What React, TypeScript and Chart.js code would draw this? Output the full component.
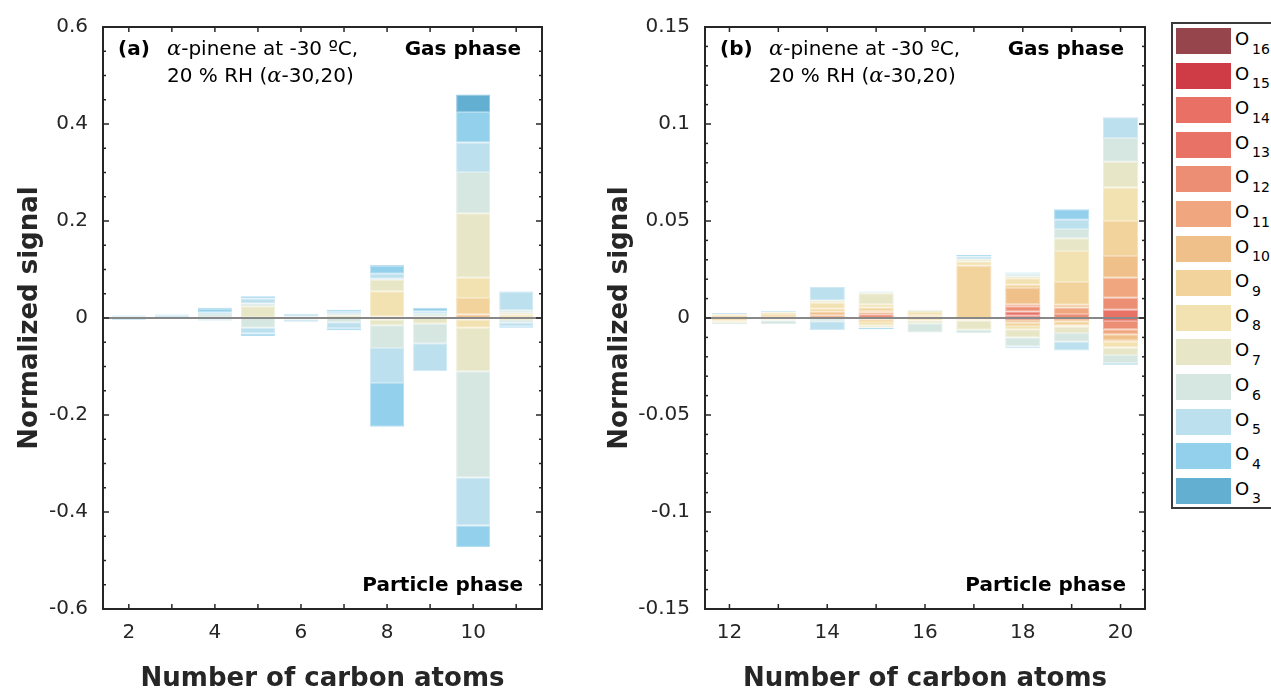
import React, { useEffect, useRef } from "react";
import { Chart, registerables } from "chart.js";

Chart.register(...registerables);

const FONT = "'DejaVu Sans', Verdana, sans-serif";
const INK = "#262626";

// Oxygen numbers (rows of the data tables below) and their colours
const oxygenNumbers = [3, 4, 5, 6, 7, 8, 9, 10, 11, 12, 13, 14, 15, 16];
const oxygenColors = [
  "#63afd1", "#93d0eb", "#bce0ee", "#d6e7e2", "#e7e7c7", "#f2e2b1", "#f2d39b",
  "#f0c08b", "#f0a77f", "#ec8e74", "#e97266", "#e87065", "#d03c45", "#95454b",
];

// Panel (a): alpha-pinene, carbon numbers 2..11
const carbonA = [2, 3, 4, 5, 6, 7, 8, 9, 10, 11];
const xTicksA = [2, 4, 6, 8, 10];
const yTicksA = [-0.6, -0.4, -0.2, 0, 0.2, 0.4, 0.6];
// gas phase (positive), one row per oxygen number O3..O16
const gasA: number[][] = [
  [0, 0, 0.002, 0, 0, 0, 0.002, 0, 0.036, 0], // O3
  [0.002, 0.002, 0.007, 0.005, 0, 0.004, 0.016, 0.007, 0.063, 0.001], // O4
  [0.003, 0.003, 0.004, 0.01, 0.006, 0.004, 0.01, 0.005, 0.061, 0.038], // O5
  [0, 0.002, 0.006, 0.006, 0.003, 0.004, 0.002, 0.006, 0.085, 0.005], // O6
  [0, 0, 0.002, 0.022, 0, 0.003, 0.024, 0.003, 0.133, 0.004], // O7
  [0, 0, 0, 0.002, 0, 0.002, 0.052, 0, 0.042, 0.005], // O8
  [0, 0, 0, 0, 0, 0, 0.003, 0, 0.034, 0.002], // O9
  [0, 0, 0, 0, 0, 0, 0, 0, 0.007, 0], // O10
  [0, 0, 0, 0, 0, 0, 0, 0, 0, 0], // O11
  [0, 0, 0, 0, 0, 0, 0, 0, 0, 0], // O12
  [0, 0, 0, 0, 0, 0, 0, 0, 0, 0], // O13
  [0, 0, 0, 0, 0, 0, 0, 0, 0, 0], // O14
  [0, 0, 0, 0, 0, 0, 0, 0, 0, 0], // O15
  [0, 0, 0, 0, 0, 0, 0, 0, 0, 0], // O16
];
// particle phase (negative)
const particleA: number[][] = [
  [0, 0, 0, 0, 0, 0, 0, 0, 0, 0], // O3
  [-0.0015, 0, -0.002, -0.005, 0, -0.004, -0.09, 0, -0.044, -0.003], // O4
  [-0.002, -0.002, -0.002, -0.012, -0.0045, -0.012, -0.072, -0.058, -0.099, -0.007], // O5
  [0, 0, -0.001, -0.02, -0.003, -0.009, -0.047, -0.04, -0.219, -0.006], // O6
  [0, 0, 0, 0, 0, 0, -0.012, -0.012, -0.09, -0.004], // O7
  [0, 0, 0, 0, 0, 0, -0.003, 0, -0.017, 0], // O8
  [0, 0, 0, 0, 0, 0, 0, 0, -0.003, 0], // O9
  [0, 0, 0, 0, 0, 0, 0, 0, 0, 0], // O10
  [0, 0, 0, 0, 0, 0, 0, 0, 0, 0], // O11
  [0, 0, 0, 0, 0, 0, 0, 0, 0, 0], // O12
  [0, 0, 0, 0, 0, 0, 0, 0, 0, 0], // O13
  [0, 0, 0, 0, 0, 0, 0, 0, 0, 0], // O14
  [0, 0, 0, 0, 0, 0, 0, 0, 0, 0], // O15
  [0, 0, 0, 0, 0, 0, 0, 0, 0, 0], // O16
];

// Panel (b): carbon numbers 12..20
const carbonB = [12, 13, 14, 15, 16, 17, 18, 19, 20];
const xTicksB = [12, 14, 16, 18, 20];
const yTicksB = [-0.15, -0.1, -0.05, 0, 0.05, 0.1, 0.15];
const gasB: number[][] = [
  [0, 0, 0, 0, 0, 0, 0, 0, 0], // O3
  [0, 0.0005, 0, 0, 0, 0.0008, 0.0005, 0.0054, 0], // O4
  [0.0008, 0, 0.0067, 0.0003, 0, 0.0014, 0.0007, 0.0048, 0.0107], // O5
  [0, 0, 0.0003, 0.0006, 0.0004, 0, 0.0009, 0.0048, 0.0122], // O6
  [0, 0.0004, 0.0012, 0.0056, 0.0006, 0.0012, 0.0009, 0.0066, 0.0133], // O7
  [0.0008, 0.0013, 0.003, 0.0017, 0.0017, 0.0022, 0.0034, 0.016, 0.0173], // O8
  [0.0006, 0.001, 0.0016, 0.0019, 0.0008, 0.0269, 0.0017, 0.0117, 0.018], // O9
  [0.0005, 0.0005, 0.0018, 0.0008, 0.0006, 0, 0.0083, 0.0014, 0.0112], // O10
  [0, 0, 0.0014, 0.0008, 0, 0, 0.001, 0.0034, 0.0104], // O11
  [0, 0, 0, 0.0019, 0, 0, 0.0027, 0.002, 0.0061], // O12
  [0, 0, 0, 0, 0, 0, 0.0022, 0, 0.0043], // O13
  [0, 0, 0, 0, 0, 0, 0.0012, 0, 0], // O14
  [0, 0, 0, 0, 0, 0, 0, 0, 0], // O15
  [0, 0, 0, 0, 0, 0, 0, 0, 0], // O16
];
const particleB: number[][] = [
  [0, 0, 0, 0, 0, 0, 0, 0, 0], // O3
  [0, 0, 0, -0.0006, 0, 0, 0, 0, 0], // O4
  [0, 0, -0.0046, 0, 0, 0, -0.0009, -0.0045, -0.001], // O5
  [-0.0006, -0.0018, -0.0014, -0.0003, -0.0048, -0.0016, -0.0046, -0.0046, -0.0041], // O6
  [-0.0006, -0.0005, 0, -0.0012, -0.0014, -0.0048, -0.0043, -0.0033, -0.0039], // O7
  [-0.0008, -0.0005, -0.0003, -0.0017, -0.0008, -0.0005, -0.0017, -0.0007, -0.0029], // O8
  [-0.0008, -0.0003, 0, -0.0013, -0.0005, -0.0008, -0.0017, -0.002, -0.001], // O9
  [-0.0003, 0, 0, 0, 0, 0, -0.0014, -0.0007, -0.0029], // O10
  [0, 0, 0, -0.0007, 0, 0, 0, -0.001, -0.0026], // O11
  [0, 0, 0, 0, 0, 0, -0.001, 0, -0.0043], // O12
  [0, 0, 0, 0, 0, 0, 0, 0, -0.0015], // O13
  [0, 0, 0, 0, 0, 0, 0, 0, 0], // O14
  [0, 0, 0, 0, 0, 0, 0, 0, 0], // O15
  [0, 0, 0, 0, 0, 0, 0, 0, 0], // O16
];

type PanelCfg = {
  tag: string;
  carbons: number[];
  gas: number[][];
  particle: number[][];
  xMin: number;
  xMax: number;
  xTicks: number[];
  yMin: number;
  yMax: number;
  yTicks: number[];
  yMinorStep: number;
  barPct: number;
  yAxisWidth: number;
  padRight: number;
};

const panelA: PanelCfg = {
  tag: "(a)", carbons: carbonA, gas: gasA, particle: particleA,
  xMin: 1.4, xMax: 11.6, xTicks: xTicksA,
  yMin: -0.6, yMax: 0.6, yTicks: yTicksA, yMinorStep: 0.05,
  barPct: 0.79, yAxisWidth: 103, padRight: 23,
};
const panelB: PanelCfg = {
  tag: "(b)", carbons: carbonB, gas: gasB, particle: particleB,
  xMin: 11.5, xMax: 20.5, xTicks: xTicksB,
  yMin: -0.15, yMax: 0.15, yTicks: yTicksB, yMinorStep: 0.01,
  barPct: 0.72, yAxisWidth: 115, padRight: 20,
};

function tint(hex: string, k: number) {
  const r = parseInt(hex.slice(1, 3), 16);
  const g = parseInt(hex.slice(3, 5), 16);
  const b = parseInt(hex.slice(5, 7), 16);
  const m = (c: number) => Math.round(c + (255 - c) * k);
  return `rgb(${m(r)},${m(g)},${m(b)})`;
}

function drawRuns(ctx: CanvasRenderingContext2D, x: number, y: number, runs: { t: string; f: string }[]) {
  let cx = x;
  for (const r of runs) {
    ctx.font = r.f;
    ctx.fillText(r.t, cx, y);
    cx += ctx.measureText(r.t).width;
  }
}

function makePlugin(cfg: PanelCfg) {
  return {
    id: "frame",
    afterDatasetsDraw(chart: any) {
      const { ctx, chartArea: a, scales } = chart;
      const y0 = scales.y.getPixelForValue(0);
      ctx.save();
      ctx.strokeStyle = "#888888";
      ctx.lineWidth = 2;
      ctx.beginPath();
      ctx.moveTo(a.left, y0);
      ctx.lineTo(a.right, y0);
      ctx.stroke();
      ctx.restore();
    },
    afterDraw(chart: any) {
      const { ctx, chartArea: a, scales } = chart;
      const x = scales.x;
      const y = scales.y;
      ctx.save();
      ctx.strokeStyle = INK;
      ctx.lineWidth = 1.5;
      const seg = (x1: number, y1: number, x2: number, y2: number) => {
        ctx.beginPath();
        ctx.moveTo(x1, y1);
        ctx.lineTo(x2, y2);
        ctx.stroke();
      };
      const n = Math.round((cfg.yMax - cfg.yMin) / cfg.yMinorStep);
      for (let i = 0; i <= n; i++) {
        const v = cfg.yMin + i * cfg.yMinorStep;
        const py = y.getPixelForValue(v);
        const major = cfg.yTicks.some((t) => Math.abs(t - v) < 1e-9);
        const len = major ? 6 : 3;
        seg(a.left, py, a.left + len, py);
        seg(a.right, py, a.right - len, py);
      }
      for (let c = Math.ceil(cfg.xMin); c <= Math.floor(cfg.xMax); c++) {
        const px = x.getPixelForValue(c);
        seg(px, a.top, px, a.top + 5);
        seg(px, a.bottom, px, a.bottom - 5);
      }
      ctx.lineWidth = 2;
      ctx.strokeRect(a.left, a.top, a.right - a.left, a.bottom - a.top);

      // annotations
      ctx.fillStyle = "#000";
      ctx.textBaseline = "alphabetic";
      ctx.textAlign = "left";
      const reg = `20px ${FONT}`;
      const bold = `bold 20px ${FONT}`;
      const greek = `italic 21px 'DejaVu Serif', serif`;
      drawRuns(ctx, a.left + 15, 55, [{ t: cfg.tag, f: bold }]);
      drawRuns(ctx, a.left + 64, 55, [
        { t: "α", f: greek },
        { t: "-pinene at -30 ºC,", f: reg },
      ]);
      drawRuns(ctx, a.left + 64, 82, [
        { t: "20 % RH (", f: reg },
        { t: "α", f: greek },
        { t: "-30,20)", f: reg },
      ]);
      ctx.textAlign = "right";
      ctx.font = bold;
      ctx.fillText("Gas phase", a.right - 21, 55);
      ctx.fillText("Particle phase", a.right - 19, 591);
      ctx.restore();
    },
  };
}

function buildDatasets(cfg: PanelCfg) {
  const ds: any[] = [];
  for (let i = oxygenNumbers.length - 1; i >= 0; i--) {
    const common = {
      backgroundColor: oxygenColors[i],
      borderColor: tint(oxygenColors[i], 0.3),
      borderWidth: 1,
      borderSkipped: false,
      categoryPercentage: 1,
      barPercentage: cfg.barPct,
      stack: "s",
    };
    ds.push({
      ...common,
      label: `O${oxygenNumbers[i]} gas`,
      data: cfg.gas[i].map((v) => (v === 0 ? null : v)),
    });
    ds.push({
      ...common,
      label: `O${oxygenNumbers[i]} particle`,
      data: cfg.particle[i].map((v) => (v === 0 ? null : v)),
    });
  }
  return ds;
}

function Panel({ cfg, left, width }: { cfg: PanelCfg; left: number; width: number }) {
  const ref = useRef<HTMLCanvasElement | null>(null);
  useEffect(() => {
    if (!ref.current) return;
    const chart = new Chart(ref.current, {
      type: "bar",
      data: { labels: cfg.carbons, datasets: buildDatasets(cfg) },
      options: {
        responsive: false,
        animation: false,
        devicePixelRatio: 1,
        layout: { padding: { left: 0, top: 21, right: cfg.padRight, bottom: 0 } },
        plugins: { legend: { display: false }, tooltip: { enabled: false } },
        scales: {
          x: {
            type: "linear",
            stacked: true,
            offset: false,
            min: cfg.xMin,
            max: cfg.xMax,
            grid: { display: false, drawTicks: false, offset: false },
            border: { display: false },
            afterBuildTicks: (s: any) => {
              s.ticks = cfg.xTicks.map((v) => ({ value: v }));
            },
            afterFit: (s: any) => {
              s.height = 83;
            },
            ticks: {
              autoSkip: false,
              maxRotation: 0,
              padding: 12,
              color: INK,
              font: { family: FONT, size: 20 },
              callback: (v: any) => String(v),
            },
            title: {
              display: true,
              text: "Number of carbon atoms",
              color: INK,
              font: { family: FONT, size: 26, weight: "bold", lineHeight: 1 },
              padding: { top: 0, bottom: 0 },
            },
          },
          y: {
            type: "linear",
            stacked: true,
            min: cfg.yMin,
            max: cfg.yMax,
            grid: { display: false, drawTicks: false },
            border: { display: false },
            afterBuildTicks: (s: any) => {
              s.ticks = cfg.yTicks.map((v) => ({ value: v }));
            },
            afterFit: (s: any) => {
              s.width = cfg.yAxisWidth;
            },
            ticks: {
              padding: 15,
              color: INK,
              font: { family: FONT, size: 20 },
              callback: (v: any) => String(Math.round(v * 1000) / 1000),
            },
            title: {
              display: true,
              text: "Normalized signal",
              color: INK,
              font: { family: FONT, size: 26, weight: "bold", lineHeight: 1 },
              padding: { top: 17, bottom: 0 },
            },
          },
        },
      } as any,
      plugins: [makePlugin(cfg) as any],
    });
    return () => chart.destroy();
  }, [cfg]);
  return (
    <canvas
      ref={ref}
      width={width}
      height={692}
      style={{ position: "absolute", left, top: 0, width, height: 692 }}
    />
  );
}

function Legend() {
  const items = oxygenNumbers.map((n, i) => ({ n, c: oxygenColors[i] })).reverse();
  return (
    <div
      style={{
        position: "absolute",
        left: 1171,
        top: 22,
        width: 130,
        height: 487,
        border: "2px solid #3a3a3a",
        boxSizing: "border-box",
        background: "#fff",
      }}
    >
      {items.map((it, i) => (
        <div key={it.n} style={{ position: "absolute", left: 3, top: 4 + i * 34.6, width: 120, height: 30 }}>
          <div style={{ position: "absolute", left: 0, top: 0, width: 55, height: 26, background: it.c }} />
          <span
            style={{
              position: "absolute",
              left: 59,
              top: 2,
              fontFamily: FONT,
              fontSize: 18,
              lineHeight: "18px",
              color: "#000",
              whiteSpace: "nowrap",
            }}
          >
            O
          </span>
          <span
            style={{
              position: "absolute",
              left: 76,
              top: 13.5,
              fontFamily: FONT,
              fontSize: 14,
              lineHeight: "14px",
              color: "#000",
              whiteSpace: "nowrap",
            }}
          >
            {it.n}
          </span>
        </div>
      ))}
    </div>
  );
}

export default function App() {
  return (
    <div
      style={{
        position: "fixed",
        left: 0,
        top: 0,
        width: 1271,
        height: 692,
        overflow: "hidden",
        background: "#fff",
      }}
    >
      <Panel cfg={panelA} left={0} width={565} />
      <Panel cfg={panelB} left={590} width={575} />
      <Legend />
    </div>
  );
}
